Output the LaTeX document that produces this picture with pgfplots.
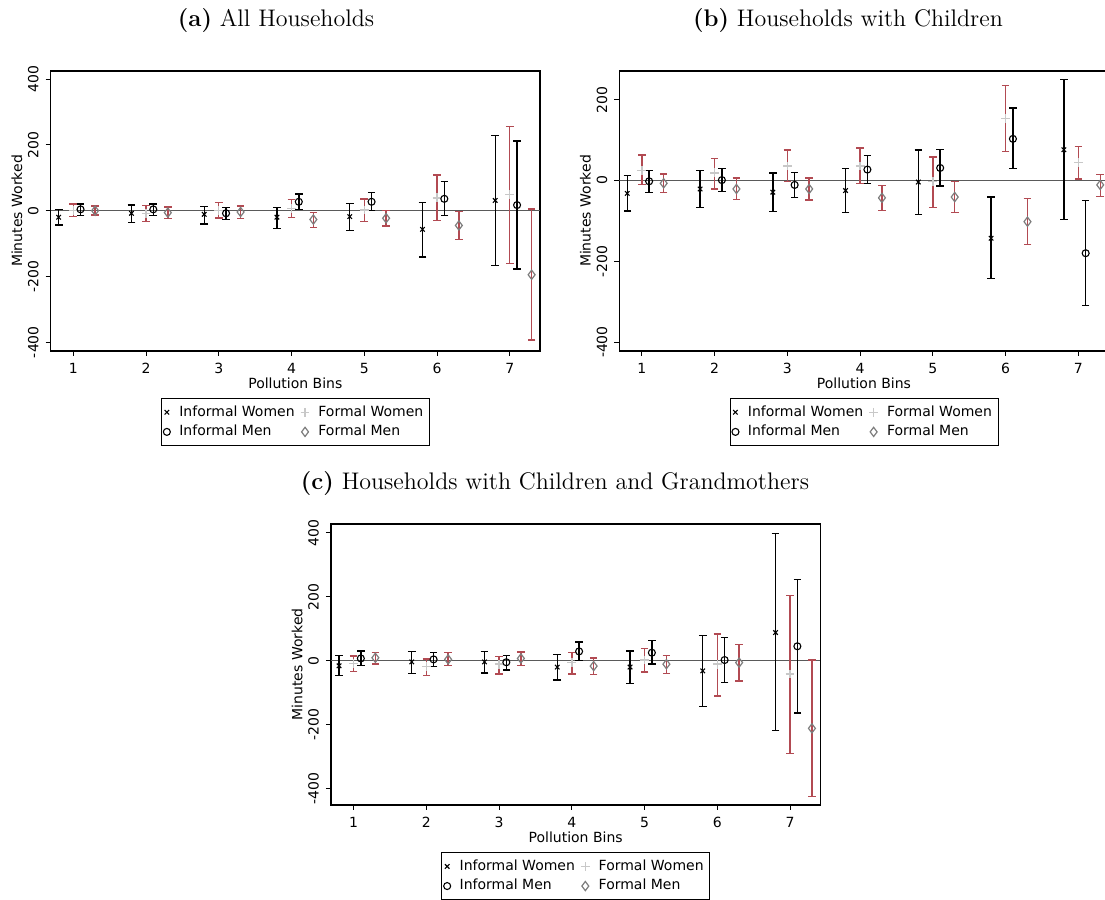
\documentclass[border=0pt]{standalone}
\usepackage{fontspec}
\usepackage{pgfplots}
\usepackage{pgfplotstable}
\pgfplotsset{compat=1.18}
\newfontfamily\dejavu{DejaVu Sans}
\definecolor{cired}{RGB}{178,74,82}
\definecolor{fwgray}{RGB}{200,200,200}
\definecolor{fmgray}{RGB}{125,125,125}
\definecolor{zgray}{RGB}{90,90,90}

% Panel (a)
\pgfplotstableread{
x y lo hi
0.8 -20 -44 4
1.8 -8 -36 17
2.8 -11 -40 12
3.8 -20 -54 10
4.8 -18 -61 22
5.8 -57 -141 25
6.8 31 -167 228
}\aIW
\pgfplotstableread{
x y lo hi
1 1 -18 20
2 -8 -33 15
3 0 -22 24
4 7 -21 34
5 2 -33 35
6 39 -30 108
7 49 -161 257
}\aFW
\pgfplotstableread{
x y lo hi
1.1 4 -15 20
2.1 4 -15 20
3.1 -8 -26 10
4.1 27 3 51
5.1 27 0 55
6.1 36 -15 88
7.1 17 -177 212
}\aIM
\pgfplotstableread{
x y lo hi
1.3 0 -13 14
2.3 -6 -23 11
3.3 -4 -23 14
4.3 -27 -51 -5
5.3 -23 -47 0
6.3 -45 -88 -2
7.3 -195 -394 5
}\aFM
% Panel (b)
\pgfplotstableread{
x y lo hi
0.8 -32 -76 12
1.8 -21 -67 25
2.8 -29 -77 19
3.8 -25 -79 30
4.8 -4 -84 75
5.8 -143 -243 -41
6.8 76 -97 250
}\bIW
\pgfplotstableread{
x y lo hi
1 25 -10 63
2 19 -21 55
3 36 -2 75
4 36 -7 80
5 -2 -67 58
6 153 71 235
7 44 4 84
}\bFW
\pgfplotstableread{
x y lo hi
1.1 -2 -30 25
2.1 1 -28 29
3.1 -11 -42 20
4.1 27 -8 62
5.1 31 -14 77
6.1 103 29 179
7.1 -180 -310 -50
}\bIM
\pgfplotstableread{
x y lo hi
1.3 -7 -30 16
2.3 -21 -47 6
3.3 -21 -48 6
4.3 -43 -74 -12
5.3 -41 -79 -3
6.3 -102 -159 -44
7.3 -11 -39 15
}\bFM
% Panel (c)
\pgfplotstableread{
x y lo hi
0.8 -16 -47 17
1.8 -4 -40 29
2.8 -4 -38 28
3.8 -20 -60 19
4.8 -20 -71 30
5.8 -32 -144 78
6.8 88 -219 398
}\cIW
\pgfplotstableread{
x y lo hi
1 -8 -33 15
2 -19 -47 5
3 -11 -42 13
4 -5 -42 26
5 2 -36 38
6 -11 -111 83
7 -42 -290 205
}\cFW
\pgfplotstableread{
x y lo hi
1.1 7 -16 30
2.1 4 -19 26
3.1 -5 -29 16
4.1 29 0 58
5.1 25 -10 63
6.1 2 -68 72
7.1 45 -164 255
}\cIM
\pgfplotstableread{
x y lo hi
1.3 9 -10 26
2.3 4 -16 25
3.3 7 -16 27
4.3 -17 -43 8
5.3 -11 -41 16
6.3 -6 -64 50
7.3 -212 -426 2
}\cFM

\newcommand{\smallfont}{\dejavu\fontsize{7}{8.4}\selectfont}

\pgfplotsset{
  /pgfplots/table/ci/.style={x=x, y=y,
    y error plus expr=\thisrow{hi}-\thisrow{y},
    y error minus expr=\thisrow{y}-\thisrow{lo}},
  panel/.style={
    scale only axis, width=244.65pt, height=140pt,
    xmin=0.69, xmax=7.415,
    xtick={1,2,3,4,5,6,7}, xticklabels={1,2,3,4,5,6,7},
    tick align=outside, xtick pos=bottom, ytick pos=left,
    major tick length=2.5pt,
    tick style={black, line width=0.5pt},
    axis line style={black, line width=0.6pt},
    ticklabel style={font=\smallfont},
    yticklabel style={rotate=90, anchor=south},
    label style={font=\smallfont},
    xlabel={Pollution Bins}, ylabel={Minutes Worked},
    xlabel style={yshift=5pt},
    ylabel shift=-4pt,
    legend columns=2, legend cell align=left,
    legend style={at={(0.5,-0.168)}, anchor=north, draw=black, line width=0.4pt,
      font=\smallfont, inner xsep=1pt, inner ysep=1.5pt,
      /tikz/every odd column/.append style={column sep=2.5pt},
      /tikz/every even column/.append style={column sep=1pt},
      row sep=-1pt},
    legend image code/.code={\draw[mark repeat=2,mark phase=2,#1] plot coordinates {(0pt,0pt) (3.5pt,0pt) (7pt,0pt)};},
  },
  iw/.style={black, only marks, mark=x, mark size=1.6pt, mark options={line width=0.55pt},
    error bars/.cd, y dir=both, y explicit,
    error bar style={line width=0.7pt, black},
    error mark options={rotate=90, mark size=1.9pt, line width=0.7pt, black}},
  fw/.style={fwgray, only marks, mark=+, mark size=2.2pt, mark options={line width=0.7pt},
    error bars/.cd, y dir=both, y explicit,
    error bar style={line width=0.7pt, cired},
    error mark options={rotate=90, mark size=1.9pt, line width=0.7pt, cired}},
  im/.style={black, only marks, mark=o, mark size=1.75pt, mark options={line width=0.55pt},
    error bars/.cd, y dir=both, y explicit,
    error bar style={line width=0.7pt, black},
    error mark options={rotate=90, mark size=1.9pt, line width=0.7pt, black}},
  fm/.style={fmgray, only marks, mark=diamond, mark size=2.3pt, mark options={line width=0.6pt},
    error bars/.cd, y dir=both, y explicit,
    error bar style={line width=0.7pt, cired},
    error mark options={rotate=90, mark size=1.9pt, line width=0.7pt, cired}},
}

\begin{document}
\begin{tikzpicture}
% ---------- (a)
\begin{axis}[panel, at={(25.35pt,274.5pt)}, anchor=south west,
  ymin=-427, ymax=425, ytick={-400,-200,0,200,400},
  yticklabels={-400,-200,0,200,400}]
\addplot[forget plot, zgray, line width=0.75pt] coordinates {(0.69,0) (7.415,0)};
\addplot[iw] table[ci] {\aIW};
\addplot[fw] table[ci] {\aFW};
\addplot[im] table[ci] {\aIM};
\addplot[fm] table[ci] {\aFM};
\legend{Informal Women, Formal Women, Informal Men, Formal Men}
\end{axis}
% ---------- (b)
\begin{axis}[panel, at={(309.65pt,274.5pt)}, anchor=south west,
  ymin=-422, ymax=271, ytick={-400,-200,0,200},
  yticklabels={-400,-200,0,200}]
\addplot[forget plot, zgray, line width=0.75pt] coordinates {(0.69,0) (7.415,0)};
\addplot[iw] table[ci] {\bIW};
\addplot[fw] table[ci] {\bFW};
\addplot[im] table[ci] {\bIM};
\addplot[fm] table[ci] {\bFM};
\legend{Informal Women, Formal Women, Informal Men, Formal Men}
\end{axis}
% ---------- (c)
\begin{axis}[panel, at={(165.5pt,47.5pt)}, anchor=south west, height=140.5pt,
  ymin=-452, ymax=428, ytick={-400,-200,0,200,400},
  yticklabels={-400,-200,0,200,400}]
\addplot[forget plot, zgray, line width=0.75pt] coordinates {(0.69,0) (7.415,0)};
\addplot[iw] table[ci] {\cIW};
\addplot[fw] table[ci] {\cFW};
\addplot[im] table[ci] {\cIM};
\addplot[fm] table[ci] {\cFM};
\legend{Informal Women, Formal Women, Informal Men, Formal Men}
\end{axis}
% ---------- titles
\node[font=\fontsize{12}{14}\selectfont] at (138pt,439.5pt) {\textbf{(a)} All Households};
\node[font=\fontsize{12}{14}\selectfont] at (424pt,439.5pt) {\textbf{(b)} Households with Children};
\node[font=\fontsize{12}{14}\selectfont] at (277.5pt,208pt) {\textbf{(c)} Households with Children and Grandmothers};
\pgfresetboundingbox
\useasboundingbox (0,0) rectangle (552.5pt,450pt);
\end{tikzpicture}
\end{document}
